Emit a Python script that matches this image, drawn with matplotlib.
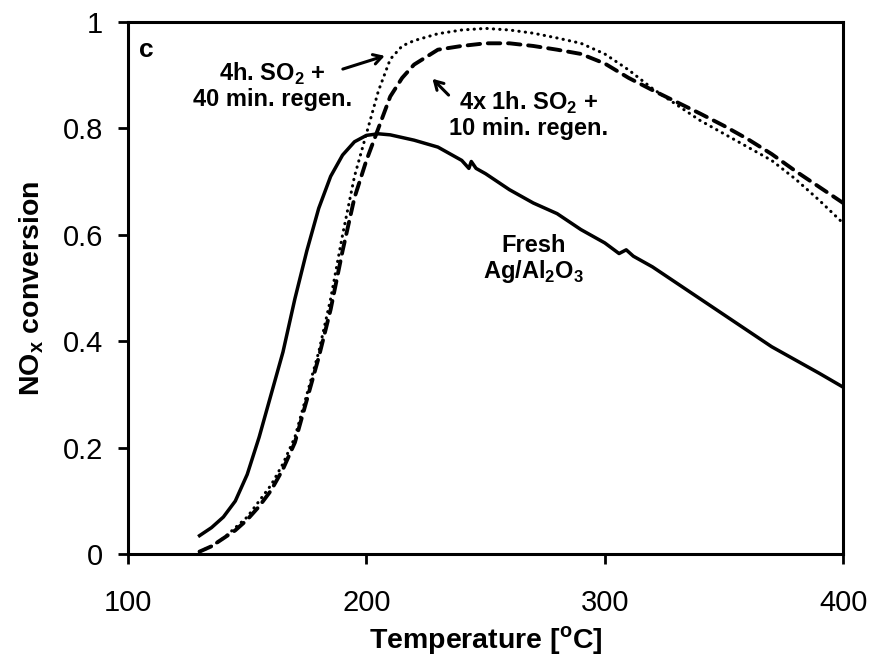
import numpy as np
import matplotlib
matplotlib.use("Agg")
import matplotlib.pyplot as plt

plt.rcParams["font.family"] = ["Liberation Sans", "DejaVu Sans"]
plt.rcParams["mathtext.fontset"] = "custom"
plt.rcParams["mathtext.rm"] = "Liberation Sans"
plt.rcParams["mathtext.bf"] = "Liberation Sans:bold"

# fresh Ag/Al2O3 (solid)
fresh_t = [130, 135, 140, 145, 150, 155, 160, 165, 170, 175, 180, 185, 190, 195, 200, 205,
           210, 215, 220, 230, 240, 243, 244, 246, 250, 260, 270, 280, 290, 300, 306, 309,
           312, 320, 330, 340, 350, 360, 370, 380, 390, 400]
fresh_v = [0.035, 0.05, 0.07, 0.10, 0.15, 0.22, 0.30, 0.38, 0.48, 0.57, 0.65, 0.71, 0.75, 0.775,
           0.787, 0.79, 0.788, 0.783, 0.778, 0.765, 0.74, 0.725, 0.738, 0.725, 0.715, 0.685,
           0.66, 0.64, 0.61, 0.585, 0.565, 0.572, 0.56, 0.54, 0.51, 0.48, 0.45, 0.42, 0.39,
           0.365, 0.34, 0.314]

# 4h SO2 + 40 min regen (dotted)
long_t = [130, 135, 140, 145, 150, 155, 160, 165, 170, 175, 180, 185, 190, 195, 200, 205, 210,
          215, 220, 230, 240, 250, 260, 270, 280, 290, 300, 310, 320, 330, 340, 350, 360, 370,
          380, 390, 400]
long_v = [0.005, 0.015, 0.03, 0.05, 0.07, 0.10, 0.13, 0.17, 0.22, 0.30, 0.38, 0.48, 0.60, 0.71,
          0.79, 0.87, 0.93, 0.955, 0.965, 0.978, 0.985, 0.988, 0.985, 0.979, 0.97, 0.96, 0.94,
          0.91, 0.875, 0.845, 0.815, 0.79, 0.765, 0.74, 0.705, 0.665, 0.622]

# 4x 1h SO2 + 10 min regen (dashed)
short_t = [130, 135, 140, 145, 150, 155, 160, 165, 170, 175, 180, 185, 190, 195, 200, 205, 210,
           215, 220, 230, 240, 250, 260, 270, 280, 290, 300, 310, 320, 330, 340, 350, 360, 370,
           380, 390, 400]
short_v = [0.005, 0.015, 0.03, 0.045, 0.065, 0.09, 0.12, 0.16, 0.21, 0.29, 0.37, 0.46, 0.57,
           0.67, 0.74, 0.80, 0.86, 0.895, 0.92, 0.948, 0.955, 0.96, 0.96, 0.955, 0.948, 0.94,
           0.922, 0.895, 0.872, 0.85, 0.828, 0.805, 0.78, 0.752, 0.72, 0.69, 0.66]

x_ticks = [100, 200, 300, 400]
y_ticks = [0, 0.2, 0.4, 0.6, 0.8, 1.0]
y_labels = ["0", "0.2", "0.4", "0.6", "0.8", "1"]

fig = plt.figure(figsize=(8.71, 6.67), dpi=100)
ax = fig.add_axes([0.147, 0.169, 0.821, 0.798])

ax.plot(fresh_t, fresh_v, color="black", lw=2.5, solid_joinstyle="round")
ax.plot(long_t, long_v, color="black", lw=2.2, linestyle=(0, (0.1, 2.0)), dash_capstyle="round")
ax.plot(short_t, short_v, color="black", lw=2.8, linestyle=(0, (3.2, 2.0)), dash_capstyle="round")

ax.set_xlim(100, 400)
ax.set_ylim(0, 1)
ax.set_xticks(x_ticks)
ax.set_yticks(y_ticks)
ax.set_yticklabels(y_labels)
ax.tick_params(direction="out", length=7, width=2, labelsize=21)
ax.tick_params(axis="y", pad=11)
ax.tick_params(axis="x", pad=18)
for s in ax.spines.values():
    s.set_linewidth(2.2)

ax.set_xlabel(r"Temperature [$^{\mathbf{o}}$C]", fontsize=20.5, fontweight="bold", labelpad=5)
ax.set_ylabel(r"NO$_{\mathbf{x}}$ conversion", fontsize=20.5, fontweight="bold", labelpad=12)

ax.text(107.5, 0.948, "c", fontsize=19, fontweight="bold", ha="center", va="center")
ax.text(160.5, 0.88, "4h. SO$_{\\mathbf{2}}$ +\n40 min. regen.", fontsize=17,
        fontweight="bold", ha="center", va="center", linespacing=1.05)
ax.text(268, 0.825, "4x 1h. SO$_{\\mathbf{2}}$ +\n10 min. regen.", fontsize=17,
        fontweight="bold", ha="center", va="center", linespacing=1.05)
ax.text(270, 0.553, "Fresh\nAg/Al$_{\\mathbf{2}}$O$_{\\mathbf{3}}$", fontsize=17,
        fontweight="bold", ha="center", va="center", linespacing=1.05)

arrow = dict(arrowstyle="->,head_length=0.6,head_width=0.35", color="black", lw=2.2)
ax.annotate("", xy=(208.8, 0.938), xytext=(189, 0.91), arrowprops=arrow)
ax.annotate("", xy=(226.9, 0.897), xytext=(235.3, 0.859), arrowprops=arrow)

fig.savefig("out.png", dpi=100)
